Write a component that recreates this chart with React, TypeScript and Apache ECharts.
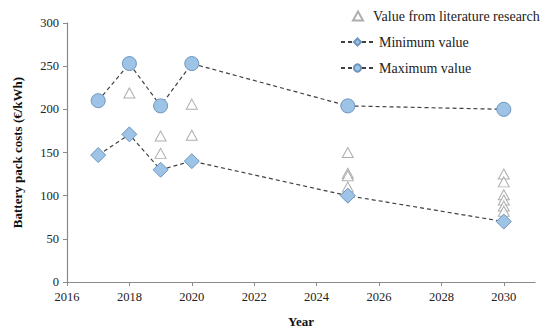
import React, { useEffect, useRef } from "react";
import * as echarts from "echarts";

const years = [2017, 2018, 2019, 2020, 2025, 2030];
const maxValues = [210, 253, 204, 253, 204, 200];
const minValues = [147, 171, 130, 140, 100, 70];
const litYears = [2018, 2019, 2019, 2020, 2020, 2025, 2025, 2025, 2025, 2030, 2030, 2030, 2030, 2030, 2030];
const litValues = [219, 169, 149, 206, 170, 150, 126, 123, 110, 125, 116, 101, 95, 88, 82];
const xTicks = [2016, 2018, 2020, 2022, 2024, 2026, 2028, 2030];

const FONT = "'Liberation Serif', 'Times New Roman', serif";

export default function App() {
  const ref = useRef<HTMLDivElement>(null);
  useEffect(() => {
    if (!ref.current) return;
    const chart = echarts.init(ref.current, null, { renderer: "svg" });
    const axisColor = "#8a8a8a";
    const legendText = { fontFamily: FONT, fontSize: 14, color: "#222" };
    chart.setOption({
      animation: false,
      textStyle: { fontFamily: FONT },
      grid: { left: 67, right: 15, top: 23, bottom: 52 },
      legend: [
        {
          orient: "vertical",
          left: 347,
          top: 4,
          itemWidth: 10,
          itemHeight: 9,
          textStyle: { ...legendText, padding: [0, 0, 0, 5] },
          data: ["Value from literature research"],
        },
        {
          orient: "vertical",
          left: 335,
          top: 30,
          itemWidth: 33,
          itemHeight: 9,
          itemGap: 12,
          textStyle: legendText,
          data: ["Minimum value", "Maximum value"],
        },
      ],
      xAxis: {
        type: "value",
        min: 2016,
        max: 2031,
        interval: 2,
        name: "Year",
        nameLocation: "middle",
        nameGap: 33,
        nameTextStyle: { fontFamily: FONT, fontWeight: "bold", fontSize: 13, color: "#111" },
        axisLine: { lineStyle: { color: axisColor, width: 1.2 } },
        axisTick: { show: true, length: 4, lineStyle: { color: axisColor }, customValues: xTicks },
        axisLabel: {
          fontFamily: FONT,
          fontSize: 12.5,
          color: "#222",
          margin: 8,
          customValues: xTicks,
          formatter: (v: number) => String(v),
        },
        splitLine: { show: false },
      },
      yAxis: {
        type: "value",
        min: 0,
        max: 300,
        interval: 50,
        name: "Battery pack costs (€/kWh)",
        nameLocation: "middle",
        nameGap: 43,
        nameTextStyle: { fontFamily: FONT, fontWeight: "bold", fontSize: 13, color: "#111" },
        axisLine: { show: true, lineStyle: { color: axisColor, width: 1.2 } },
        axisTick: { show: true, length: 4, lineStyle: { color: axisColor } },
        axisLabel: { fontFamily: FONT, fontSize: 12.5, color: "#222", margin: 8 },
        splitLine: { show: false },
      },
      series: [
        {
          name: "Value from literature research",
          type: "scatter",
          symbol: "triangle",
          symbolSize: [11, 10],
          itemStyle: { color: "#ffffff", borderColor: "#9a9a9a", borderWidth: 1 },
          data: litYears.map((y, i) => [y, litValues[i]]),
          z: 2,
        },
        {
          name: "Minimum value",
          type: "line",
          symbol: "diamond",
          symbolSize: 15,
          itemStyle: { color: "#9dc3e6", borderColor: "#6d95bd", borderWidth: 1 },
          lineStyle: { color: "#404040", type: [4, 3], width: 1.2 },
          data: years.map((y, i) => [y, minValues[i]]),
          z: 3,
        },
        {
          name: "Maximum value",
          type: "line",
          symbol: "circle",
          symbolSize: 14,
          itemStyle: { color: "#9dc3e6", borderColor: "#6d95bd", borderWidth: 1 },
          lineStyle: { color: "#404040", type: [4, 3], width: 1.2 },
          data: years.map((y, i) => [y, maxValues[i]]),
          z: 3,
        },
      ],
    });
    return () => chart.dispose();
  }, []);
  return <div ref={ref} style={{ width: 550, height: 334, position: "absolute", left: 0, top: 0 }} />;
}
